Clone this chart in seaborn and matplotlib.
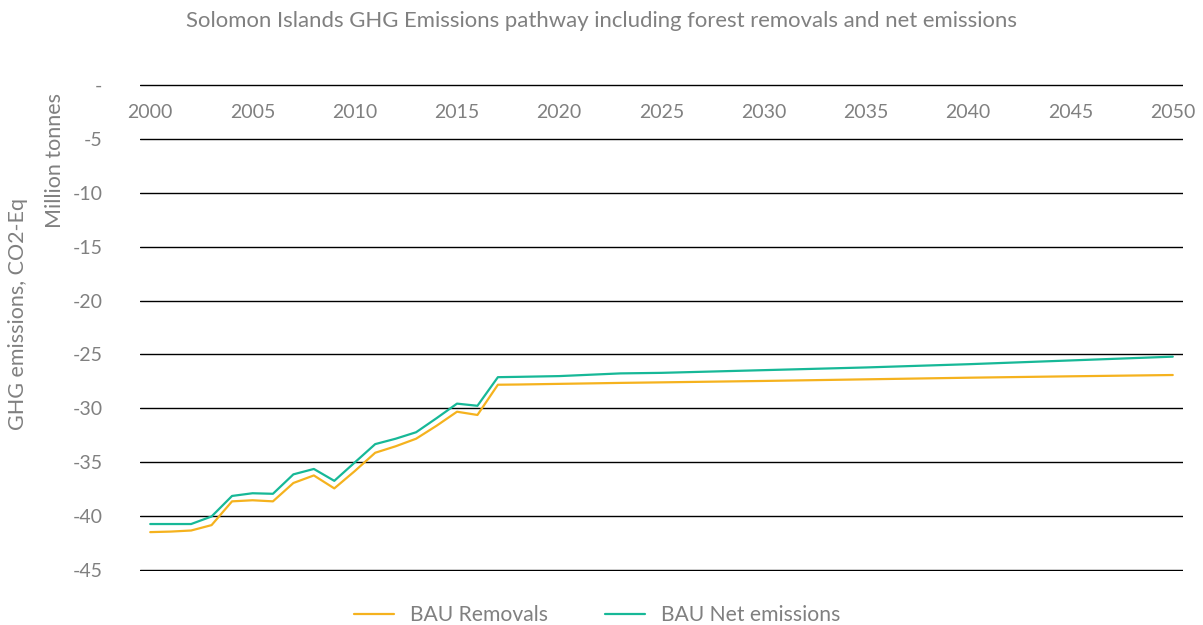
import matplotlib
matplotlib.use('Agg')
import matplotlib.pyplot as plt
import seaborn as sns
import pandas as pd

# Values (million tonnes CO2-eq)
years = [2000, 2001, 2002, 2003, 2004, 2005, 2006, 2007, 2008, 2009, 2010,
         2011, 2012, 2013, 2014, 2015, 2016, 2017, 2018, 2020, 2023, 2025,
         2030, 2035, 2040, 2045, 2050]
bau_removals = [-41.45, -41.4, -41.3, -40.8, -38.6, -38.5, -38.6, -36.9,
                -36.2, -37.4, -35.8, -34.1, -33.5, -32.8, -31.6, -30.3,
                -30.6, -27.8, -27.78, -27.72, -27.63, -27.58, -27.45, -27.3,
                -27.15, -27.02, -26.9]
bau_net = [-40.7, -40.7, -40.7, -40.0, -38.1, -37.85, -37.9, -36.1, -35.6,
           -36.7, -35.0, -33.3, -32.8, -32.2, -30.9, -29.55, -29.75, -27.1,
           -27.07, -27.0, -26.75, -26.7, -26.45, -26.2, -25.9, -25.55, -25.2]
series_names = ['BAU Removals', 'BAU Net emissions']
series_colors = ['#F5B21E', '#17B897']
year_ticks = list(range(2000, 2051, 5))
y_ticks = list(range(0, -50, -5))

grey = '#808080'
sns.set_theme(style='white')
plt.rcParams['font.family'] = ['Lato', 'DejaVu Sans']

df = pd.concat([
    pd.DataFrame({'Year': years, 'Value': bau_removals, 'Series': series_names[0]}),
    pd.DataFrame({'Year': years, 'Value': bau_net, 'Series': series_names[1]}),
], ignore_index=True)

fig = plt.figure(figsize=(12.03, 6.25), dpi=100)
ax = fig.add_axes([140 / 1203, 1 - 571 / 625, 1043 / 1203, 487 / 625])

sns.lineplot(data=df, x='Year', y='Value', hue='Series',
             palette=dict(zip(series_names, series_colors)),
             linewidth=1.6, ax=ax, legend=False)

ax.set_xlim(1999.5, 2050.5)
ax.set_ylim(-45.05, 0.05)
ax.set_yticks(y_ticks)
ax.set_yticklabels(['-' if v == 0 else str(v) for v in y_ticks])
ax.set_xticks(year_ticks)
ax.set_xticklabels([str(y) for y in year_ticks])
ax.xaxis.tick_top()
ax.tick_params(axis='x', length=0, pad=-27, labelsize=14, labelcolor=grey)
ax.tick_params(axis='y', length=0, pad=27, labelsize=14, labelcolor=grey)
ax.yaxis.grid(True, color='black', linewidth=1.0)
ax.xaxis.grid(False)
for s in ax.spines.values():
    s.set_visible(False)
ax.set_xlabel('')
ax.set_ylabel('')

fig.text(0.5, 1 - 21 / 625,
         'Solomon Islands GHG Emissions pathway including forest removals and net emissions',
         ha='center', va='center', fontsize=15.9, color=grey)
fig.text(18 / 1203, 1 - 314 / 625, 'GHG emissions, CO2-Eq', rotation=90,
         ha='center', va='center', fontsize=15.5, color=grey)
fig.text(55 / 1203, 1 - 160 / 625, 'Million tonnes', rotation=90,
         ha='center', va='center', fontsize=15.5, color=grey)

handles = [plt.Line2D([], [], color=c, linewidth=1.6) for c in series_colors]
leg = fig.legend(handles, series_names, loc='center', ncol=2,
                 bbox_to_anchor=(597 / 1203, 1 - 615 / 625), frameon=False,
                 fontsize=15.2, handlelength=1.9, columnspacing=2.7,
                 handletextpad=0.75)
for t in leg.get_texts():
    t.set_color(grey)

fig.savefig('out.png', dpi=100)
